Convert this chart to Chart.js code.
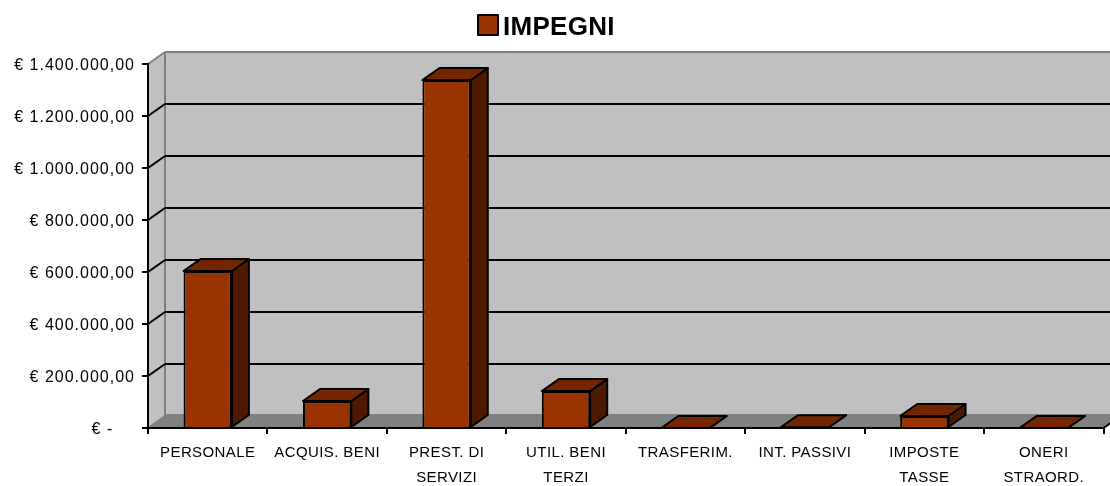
<!DOCTYPE html>
<html>
<head>
<meta charset="utf-8">
<title>IMPEGNI</title>
<script src="https://cdn.jsdelivr.net/npm/chart.js@4"></script>
<style>
  html, body { margin: 0; padding: 0; background: #fff; }
  canvas { display: block; }
</style>
</head>
<body>
<canvas id="myChart" width="1110" height="486"></canvas>
<script>
  var categories = ["PERSONALE", "ACQUIS. BENI", ["PREST. DI", "SERVIZI"], ["UTIL. BENI", "TERZI"], "TRASFERIM.", "INT. PASSIVI", ["IMPOSTE", "TASSE"], ["ONERI", "STRAORD."]];
  var impegni = [604000, 104000, 1338000, 142000, 0, 3000, 46000, 0];
  var yTicks = [0, 200000, 400000, 600000, 800000, 1000000, 1200000, 1400000];
  var yTickLabels = ["€ -\u00a0\u00a0\u00a0\u00a0", "€ 200.000,00", "€ 400.000,00", "€ 600.000,00", "€ 800.000,00", "€ 1.000.000,00", "€ 1.200.000,00", "€ 1.400.000,00"];

  // depth of the fake 3d
  var dx = 17, dy = -12;

  function poly(ctx, pts, fill, stroke, lw) {
    ctx.beginPath();
    ctx.moveTo(pts[0][0], pts[0][1]);
    for (var i = 1; i < pts.length; i++) ctx.lineTo(pts[i][0], pts[i][1]);
    ctx.closePath();
    if (fill) { ctx.fillStyle = fill; ctx.fill(); }
    if (stroke) { ctx.strokeStyle = stroke; ctx.lineWidth = lw; ctx.stroke(); }
  }

  function line(ctx, x1, y1, x2, y2, color, lw) {
    ctx.beginPath();
    ctx.moveTo(x1, y1);
    ctx.lineTo(x2, y2);
    ctx.strokeStyle = color;
    ctx.lineWidth = lw;
    ctx.stroke();
  }

  // labels in the original are spaced out, a different amount per axis
  function spaced(scale, px, shift) {
    if (scale.spacedDone) return;
    scale.spacedDone = true;
    var draw = scale.drawLabels;
    scale.drawLabels = function (area) {
      var c = this.ctx;
      c.save();
      c.letterSpacing = px;
      c.translate(0, shift);
      draw.call(this, area);
      c.restore();
    };
  }

  var walls = {
    id: 'walls',
    beforeDraw: function (chart) {
      var ctx = chart.ctx, a = chart.chartArea, y = chart.scales.y;
      var l = a.left, r = a.right, t = a.top, b = a.bottom;
      spaced(chart.scales.y, '1px', 2);
      spaced(chart.scales.x, '0.4px', 0);
      ctx.save();
      poly(ctx, [[l + dx, t + dy], [r + dx, t + dy], [r + dx, b + dy], [l + dx, b + dy]], '#c0c0c0');
      poly(ctx, [[l, t], [l + dx, t + dy], [l + dx, b + dy], [l, b]], '#c0c0c0');
      poly(ctx, [[l, b], [r, b], [r + dx, b + dy], [l + dx, b + dy]], '#808080');
      line(ctx, l + dx, t + dy, r + dx, t + dy, '#808080', 2);
      line(ctx, l + dx, t + dy, l + dx, b + dy, '#808080', 2);
      line(ctx, l, t, l + dx, t + dy, '#808080', 2);
      line(ctx, l, b, l + dx, b + dy, '#808080', 2);
      line(ctx, l + dx, b + dy - 1, r + dx, b + dy - 1, '#808080', 2);
      yTicks.forEach(function (v) {
        if (v === 0 || v === 1400000) return;
        var py = y.getPixelForValue(v);
        line(ctx, l, py, l + dx, py + dy, '#000', 2);
        line(ctx, l + dx, py + dy, r + dx, py + dy, '#000', 2);
      });
      line(ctx, r, b, r + dx, b + dy, '#000', 2);
      ctx.restore();
    },
    afterDatasetsDraw: function (chart) {
      var ctx = chart.ctx;
      ctx.save();
      ctx.lineJoin = 'round';
      chart.getDatasetMeta(0).data.forEach(function (bar) {
        var x1 = bar.x - bar.width / 2, x2 = bar.x + bar.width / 2;
        var top = bar.y, base = bar.base;
        poly(ctx, [[x2, top], [x2 + dx, top + dy], [x2 + dx, base + dy], [x2, base]], '#4d1a00', '#000', 2);
        poly(ctx, [[x1, top], [x2, top], [x2 + dx, top + dy], [x1 + dx, top + dy]], '#732600', '#000', 2);
      });
      // legend, the text sits closer to the key than the built in one allows
      var ds = chart.data.datasets[0];
      ctx.fillStyle = ds.backgroundColor;
      ctx.fillRect(478, 15, 20, 20);
      ctx.strokeStyle = '#000';
      ctx.lineWidth = 2;
      ctx.strokeRect(478, 15, 20, 20);
      ctx.fillStyle = '#000';
      ctx.font = 'bold 26px "Liberation Sans"';
      ctx.textAlign = 'left';
      ctx.textBaseline = 'alphabetic';
      ctx.letterSpacing = '0.3px';
      ctx.fillText(ds.label, 503, 35);
      ctx.restore();
    }
  };

  var ctx = document.getElementById("myChart").getContext('2d');
  var myChart = new Chart(ctx, {
    type: 'bar',
    plugins: [walls],
    data: {
      labels: categories,
      datasets: [{
        label: 'IMPEGNI',
        data: impegni,
        backgroundColor: "#993300",
        borderColor: "#000",
        borderWidth: 2,
        barPercentage: 0.405,
        categoryPercentage: 1
      }]
    },
    options: {
      responsive: false,
      animation: false,
      layout: { padding: { top: 64, right: 6.5, left: 0, bottom: 0 } },
      plugins: {
        tooltip: { enabled: false },
        legend: { display: false }
      },
      scales: {
        x: {
          offset: true,
          afterFit: function (s) { s.height = 58; },
          border: { color: '#000', width: 2 },
          grid: { drawOnChartArea: false, color: '#000', lineWidth: 2, tickLength: 6 },
          ticks: {
            color: '#000',
            padding: 6,
            maxRotation: 0,
            autoSkip: false,
            font: { family: '"Liberation Sans"', size: 15, lineHeight: 1.67 }
          }
        },
        y: {
          min: 0,
          max: 1400000,
          afterFit: function (s) { s.width = 148; },
          afterBuildTicks: function (s) {
            s.ticks = yTicks.map(function (v) { return { value: v }; });
          },
          border: { color: '#000', width: 2 },
          grid: { drawOnChartArea: false, color: '#000', lineWidth: 2, tickLength: 6 },
          ticks: {
            color: '#000',
            padding: 7,
            callback: function (v) { return yTickLabels[yTicks.indexOf(v)]; },
            font: { family: '"Liberation Sans"', size: 16 }
          }
        }
      }
    }
  });
</script>
</body>
</html>
